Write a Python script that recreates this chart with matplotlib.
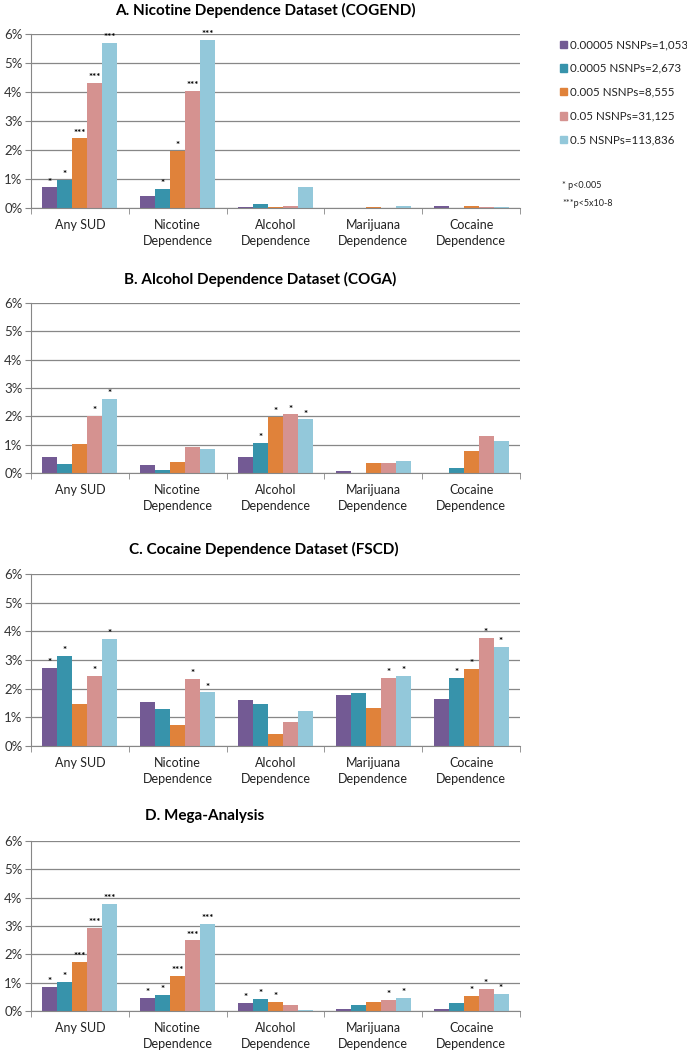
import matplotlib
matplotlib.use("Agg")
import matplotlib.pyplot as plt
import numpy as np

plt.rcParams['font.family'] = ['Lato', 'DejaVu Sans']

categories = ["Any SUD", "Nicotine\nDependence", "Alcohol\nDependence",
              "Marijuana\nDependence", "Cocaine\nDependence"]
series = ["0.00005 NSNPs=1,053", "0.0005 NSNPs=2,673", "0.005 NSNPs=8,555",
          "0.05 NSNPs=31,125", "0.5 NSNPs=113,836"]
colors = ["#735A94", "#3793AB", "#E0823A", "#D59290", "#93C8DA"]

titles = ["A. Nicotine Dependence Dataset (COGEND)",
          "B. Alcohol Dependence Dataset (COGA)",
          "C. Cocaine Dependence Dataset (FSCD)",
          "D. Mega-Analysis"]

# values in %, rows = categories, cols = thresholds
vals_a = [[0.71, 0.97, 2.40, 4.32, 5.69],
          [0.43, 0.65, 1.97, 4.03, 5.81],
          [0.04, 0.13, 0.05, 0.06, 0.74],
          [0.00, 0.00, 0.04, 0.01, 0.08],
          [0.06, 0.00, 0.06, 0.05, 0.02]]
vals_b = [[0.55, 0.32, 1.02, 2.02, 2.60],
          [0.27, 0.09, 0.40, 0.91, 0.86],
          [0.57, 1.07, 1.99, 2.07, 1.89],
          [0.08, 0.00, 0.36, 0.34, 0.42],
          [0.00, 0.19, 0.79, 1.31, 1.14]]
vals_c = [[2.73, 3.14, 1.48, 2.43, 3.72],
          [1.54, 1.28, 0.72, 2.35, 1.87],
          [1.59, 1.48, 0.42, 0.85, 1.23],
          [1.79, 1.84, 1.31, 2.36, 2.43],
          [1.65, 2.38, 2.70, 3.76, 3.45]]
vals_d = [[0.86, 1.04, 1.74, 2.93, 3.79],
          [0.47, 0.56, 1.24, 2.49, 3.06],
          [0.27, 0.42, 0.33, 0.20, 0.05],
          [0.08, 0.20, 0.33, 0.38, 0.46],
          [0.08, 0.29, 0.54, 0.79, 0.61]]

stars_a = [["*", "*", "***", "***", "***"],
           ["", "*", "*", "***", "***"],
           ["", "", "", "", ""],
           ["", "", "", "", ""],
           ["", "", "", "", ""]]
stars_b = [["", "", "", "*", "*"],
           ["", "", "", "", ""],
           ["", "*", "*", "*", "*"],
           ["", "", "", "", ""],
           ["", "", "", "", ""]]
stars_c = [["*", "*", "", "*", "*"],
           ["", "", "", "*", "*"],
           ["", "", "", "", ""],
           ["", "", "", "*", "*"],
           ["", "*", "*", "*", "*"]]
stars_d = [["*", "*", "***", "***", "***"],
           ["*", "*", "***", "***", "***"],
           ["*", "*", "*", "", ""],
           ["", "", "", "*", "*"],
           ["", "", "*", "*", "*"]]

all_vals = [vals_a, vals_b, vals_c, vals_d]
all_stars = [stars_a, stars_b, stars_c, stars_d]

W, H = 687, 1050
fig = plt.figure(figsize=(W / 100, H / 100), dpi=100)

# axes pixel extents: (top, bottom)
panels = [(34, 208), (303, 473), (574, 746), (841, 1011)]
title_pos = [(265, 10), (260, 279), (264, 549), (205, 816)]
left_px, right_px = 31, 520
gray = "#878787"
bw = 0.153

for i in range(4):
    top, bot = panels[i]
    ax = fig.add_axes([left_px / W, 1 - bot / H, (right_px - left_px) / W, (bot - top) / H])
    v = np.array(all_vals[i])
    x = np.arange(len(categories))
    for j in range(len(series)):
        xs = x + (j - 2) * bw
        ax.bar(xs, v[:, j], width=bw, color=colors[j], label=series[j], zorder=3)
        for k in range(len(categories)):
            s = all_stars[i][k][j]
            if s:
                ax.text(xs[k], v[k, j] + 0.03, s, ha="center", va="bottom",
                        fontsize=7, fontweight="bold", color="black", zorder=4)
    ax.set_xlim(-0.5, 4.5)
    ax.set_ylim(0, 6)
    ax.set_yticks(range(7))
    ax.set_yticklabels([f"{t}%" for t in range(7)], fontsize=9.5, color="#333333")
    ax.yaxis.grid(True, color=gray, linewidth=0.9, zorder=0)
    ax.set_xticks(x)
    ax.set_xticklabels(categories, fontsize=9, color="#222222", linespacing=1.4)
    ax.set_xticks(np.arange(-0.5, 5, 1), minor=True)
    ax.tick_params(axis="x", which="major", length=0, pad=8)
    ax.tick_params(axis="x", which="minor", length=4, color=gray, direction="out")
    ax.tick_params(axis="y", length=4, color=gray, pad=2)
    for side in ["top", "right"]:
        ax.spines[side].set_visible(False)
    ax.spines["left"].set_color(gray)
    ax.spines["bottom"].set_color(gray)
    ax.spines["bottom"].set_zorder(5)
    tx, ty = title_pos[i]
    fig.text(tx / W, 1 - ty / H, titles[i], ha="center", va="center",
             fontsize=11, fontweight="bold")

# legend
leg_y = [45, 68, 92, 116, 140]
for j in range(len(series)):
    y = 1 - leg_y[j] / H
    fig.patches.append(plt.Rectangle((560 / W, y - 3.5 / H), 7 / W, 7 / H,
                                     transform=fig.transFigure, color=colors[j]))
    fig.text(570 / W, y, series[j], ha="left", va="center", fontsize=8.3, color="#222222")

fig.text(562 / W, 1 - 185 / H, "* p<0.005", ha="left", va="center", fontsize=6.5, color="#222222")
fig.text(562 / W, 1 - 203 / H, "***p<5x10-8", ha="left", va="center", fontsize=6.5, color="#222222")

fig.savefig("out.png", dpi=100, facecolor="white")
